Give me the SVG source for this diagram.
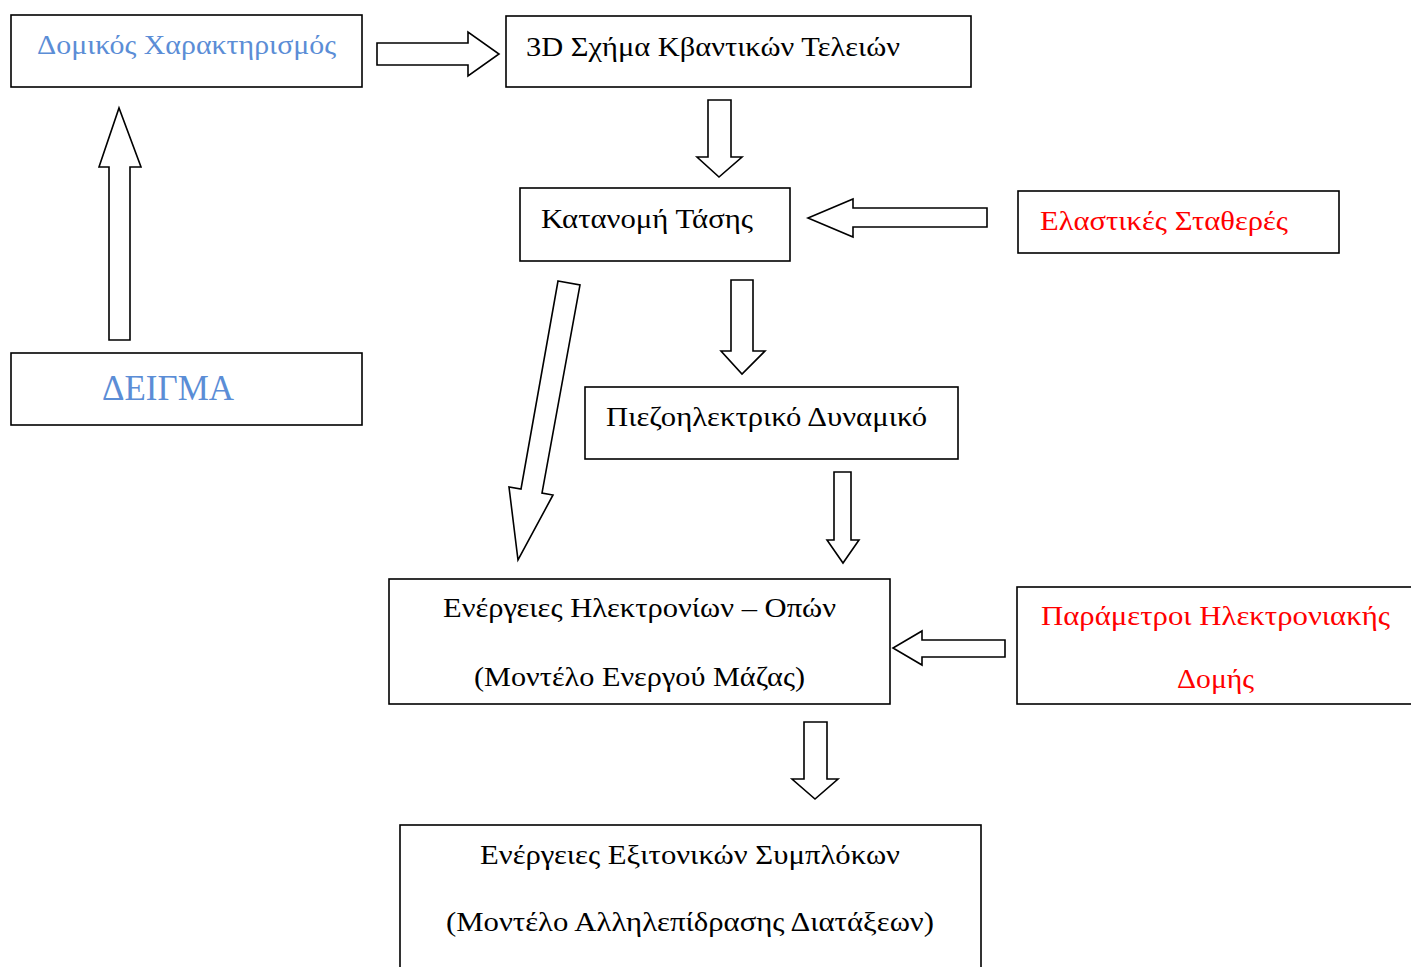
<svg xmlns="http://www.w3.org/2000/svg" width="1411" height="967" viewBox="0 0 1411 967">
  <style>
    .box { fill: #ffffff; stroke: #000000; stroke-width: 1.6; }
    .arrow { fill: #ffffff; stroke: #000000; stroke-width: 1.6; stroke-linejoin: miter; }
    .t { font-family: "Liberation Serif", "DejaVu Serif", serif; font-size: 28px; fill: #000000; }
    .blue { fill: #5B8DD6; }
    .red { fill: #FF0000; }
  </style>
  <rect width="1411" height="967" fill="#ffffff"/>

  <!-- block arrows -->
  <g id="connectors">
    <!-- Δομικός Χαρακτηρισμός → 3D Σχήμα -->
    <polygon class="arrow" points="377,43 468,43 468,32 499,54 468,76 468,65 377,65"/>
    <!-- ΔΕΙΓΜΑ → Δομικός Χαρακτηρισμός -->
    <polygon class="arrow" points="109,340 109,167 99,167 119,108 141,167 130,167 130,340"/>
    <!-- 3D Σχήμα → Κατανομή Τάσης -->
    <polygon class="arrow" points="708,100 731,100 731,157 742,157 719,177 697,157 708,157"/>
    <!-- Ελαστικές Σταθερές → Κατανομή Τάσης -->
    <polygon class="arrow" points="987,208 853,208 853,199 808,218 853,237 853,227 987,227"/>
    <!-- Κατανομή Τάσης → Πιεζοηλεκτρικό Δυναμικό -->
    <polygon class="arrow" points="731,280 753,280 753,351 765,351 742,374 721,351 731,351"/>
    <!-- Κατανομή Τάσης → Ενέργειες Ηλεκτρονίων – Οπών -->
    <polygon class="arrow" points="558,281 580,285 542,493 553,495 518,560 509,487 521,489"/>
    <!-- Πιεζοηλεκτρικό Δυναμικό → Ενέργειες Ηλεκτρονίων – Οπών -->
    <polygon class="arrow" points="834,472 851,472 851,540 859,540 843,563 827,540 834,540"/>
    <!-- Παράμετροι Ηλεκτρονιακής Δομής → Ενέργειες Ηλεκτρονίων – Οπών -->
    <polygon class="arrow" points="1005,640 922,640 922,631 893,648 922,665 922,657 1005,657"/>
    <!-- Ενέργειες Ηλεκτρονίων – Οπών → Ενέργειες Εξιτονικών Συμπλόκων -->
    <polygon class="arrow" points="804,722 827,722 827,779 838,779 815,799 792,779 804,779"/>
  </g>

  <g id="node-domikos">
    <rect class="box" x="11" y="15" width="351" height="72"/>
    <text class="t blue" x="37" y="54" textLength="299" lengthAdjust="spacingAndGlyphs">Δομικός Χαρακτηρισμός</text>
  </g>

  <g id="node-3d-schima">
    <rect class="box" x="506" y="16" width="465" height="71"/>
    <text class="t" x="526" y="56" textLength="374" lengthAdjust="spacingAndGlyphs">3D Σχήμα Κβαντικών Τελειών</text>
  </g>

  <g id="node-katanomi">
    <rect class="box" x="520" y="188" width="270" height="73"/>
    <text class="t" x="541" y="228" textLength="212" lengthAdjust="spacingAndGlyphs">Κατανομή Τάσης</text>
  </g>

  <g id="node-elastikes">
    <rect class="box" x="1018" y="191" width="321" height="62"/>
    <text class="t red" x="1040" y="230" textLength="248" lengthAdjust="spacingAndGlyphs">Ελαστικές Σταθερές</text>
  </g>

  <g id="node-deigma">
    <rect class="box" x="11" y="353" width="351" height="72"/>
    <text class="t blue" x="102" y="400" style="font-size:36px" textLength="132" lengthAdjust="spacingAndGlyphs">ΔΕΙΓΜΑ</text>
  </g>

  <g id="node-piezo">
    <rect class="box" x="585" y="387" width="373" height="72"/>
    <text class="t" x="606" y="426" textLength="321" lengthAdjust="spacingAndGlyphs">Πιεζοηλεκτρικό Δυναμικό</text>
  </g>

  <g id="node-energeies-ilektronion">
    <rect class="box" x="389" y="579" width="501" height="125"/>
    <text class="t" x="443" y="617" textLength="393" lengthAdjust="spacingAndGlyphs">Ενέργειες Ηλεκτρονίων – Οπών</text>
    <text class="t" x="474" y="686" textLength="331" lengthAdjust="spacingAndGlyphs">(Μοντέλο Ενεργού Μάζας)</text>
  </g>

  <g id="node-parametroi">
    <rect class="box" x="1017" y="587" width="400" height="117"/>
    <text class="t red" x="1041" y="625" textLength="349" lengthAdjust="spacingAndGlyphs">Παράμετροι Ηλεκτρονιακής</text>
    <text class="t red" x="1177" y="688" textLength="77" lengthAdjust="spacingAndGlyphs">Δομής</text>
  </g>

  <g id="node-exitonika">
    <rect class="box" x="400" y="825" width="581" height="160"/>
    <text class="t" x="480" y="864" textLength="420" lengthAdjust="spacingAndGlyphs">Ενέργειες Εξιτονικών Συμπλόκων</text>
    <text class="t" x="446" y="931" textLength="488" lengthAdjust="spacingAndGlyphs">(Μοντέλο Αλληλεπίδρασης Διατάξεων)</text>
  </g>
</svg>
